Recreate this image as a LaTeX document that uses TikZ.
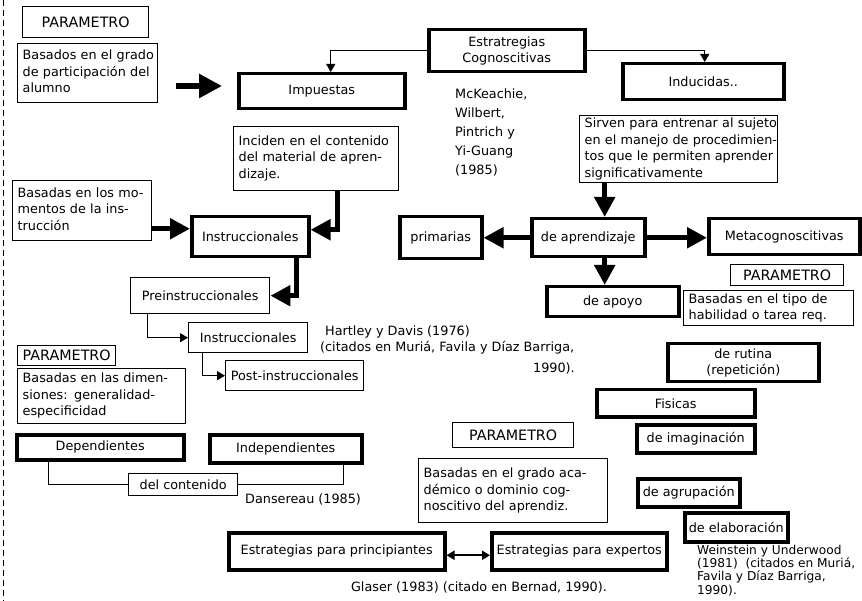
\documentclass[tikz,border=0pt]{standalone}
\usepackage{fontspec}
\setmainfont{DejaVu Sans}
\usetikzlibrary{arrows.meta}
\newcommand{\fs}{\fontsize{12.8}{16.5}\selectfont}
\newcommand{\fp}{\fontsize{14.3}{16.5}\selectfont}
\newcommand{\tb}[1]{\begin{tabular}{@{}l@{}}#1\end{tabular}}
\begin{document}
\begin{tikzpicture}[x=1pt,y=-1pt,
  bx/.style={draw, line width=1.4pt, anchor=north west, inner sep=0pt, align=center, font=\fs},
  tk/.style={bx, line width=3.5pt},
  pm/.style={bx, font=\fp},
  lb/.style={align=left, inner xsep=5pt},
  big/.style={line width=5pt, -{Triangle[length=20pt,width=20pt]}},
  bigA/.style={line width=6.5pt, -{Triangle[length=23pt,width=23pt]}},
  sm/.style={line width=1.3pt, -{Triangle[length=8pt,width=9pt]}},
  dbl/.style={line width=1.8pt, {Triangle[length=8pt,width=9pt]}-{Triangle[length=8pt,width=9pt]}},
  ln/.style={line width=1.3pt},
  txt/.style={font=\fs, inner sep=0pt, align=left}
]
\useasboundingbox (0,0) rectangle (862,601);
\fill[white] (0,0) rectangle (862,601);
\draw[line width=0.8pt, dash pattern=on 6pt off 4pt] (3,0) -- (3,601);

\node[pm, minimum width=126pt, minimum height=31pt] (p1) at (22,6) {PARAMETRO};
\node[bx, lb, text width=130pt, minimum height=59pt] (basados) at (17,43) {\tb{Basados en el grado\\de participación del\\alumno}};
\node[tk, minimum width=166pt, minimum height=35pt] (impuestas) at (237,72) {Impuestas};
\node[tk, minimum width=156pt, minimum height=42pt] (estrat) at (427,28) {Estratregias\\Cognoscitivas};
\node[tk, minimum width=161pt, minimum height=36pt] (inducidas) at (621,62) {Inducidas..};
\node[txt, anchor=north west, font=\fontsize{12.8}{19}\selectfont] (mck) at (455,89) {McKeachie,\\Wilbert,\\Pintrich y\\Yi-Guang\\(1985)};
\node[bx, lb, text width=155pt, minimum height=64pt] (inciden) at (233,126) {\tb{Inciden en el contenido\\del material de apren-\\dizaje.}};
\node[bx, lb, text width=188pt, minimum height=67pt] (sirven) at (579,115) {\tb{Sirven para entrenar al sujeto\\en el manejo de procedimien-\\tos que le permiten aprender\\significativamente}};
\node[bx, lb, text width=129pt, minimum height=60pt] (momentos) at (12,180) {\tb{Basadas en los mo-\\mentos de la ins-\\trucción}};
\node[tk, minimum width=117pt, minimum height=40pt] (instr1) at (190,215) {Instruccionales};
\node[tk, minimum width=82pt, minimum height=42pt] (primarias) at (398,215) {primarias};
\node[tk, minimum width=113pt, minimum height=38pt] (deaprend) at (530,217) {de aprendizaje};
\node[tk, minimum width=151pt, minimum height=36pt] (meta) at (707,217) {Metacognoscitivas};
\node[pm, minimum width=113pt, minimum height=21pt] (p4) at (730,264) {PARAMETRO};
\node[tk, minimum width=132pt, minimum height=30pt] (deapoyo) at (545,285) {de apoyo};
\node[bx, lb, text width=160pt, minimum height=35pt] (tipo) at (683,290) {\tb{Basadas en el tipo de\\habilidad o tarea req.}};
\node[bx, minimum width=139pt, minimum height=36pt] (preinstr) at (130,277) {Preinstruccionales};
\node[bx, minimum width=119pt, minimum height=30pt] (instr2) at (188,322) {Instruccionales};
\node[bx, minimum width=138pt, minimum height=30pt] (post) at (225,360) {Post-instruccionales};
\node[txt, anchor=west] (hart1) at (325,332) {Hartley y Davis (1976)};
\node[txt, anchor=west] (hart2) at (320,348) {(citados en Muriá, Favila y Díaz Barriga,};
\node[txt, anchor=east] (hart3) at (575,368) {1990).};
\node[pm, minimum width=98pt, minimum height=20pt] (p2) at (17,345) {PARAMETRO};
\node[tk, minimum width=151pt, minimum height=38pt] (rutina) at (666,342) {de rutina\\(repetición)};
\node[tk, minimum width=158pt, minimum height=27pt] (fisicas) at (595,388) {Fisicas};
\node[bx, lb, text width=158pt, minimum height=55pt] (dimen) at (17,368) {\tb{Basadas en las dimen-\\siones: generalidad-\\especificidad}};
\node[tk, minimum width=118pt, minimum height=28pt] (imag) at (635,423) {de imaginación};
\node[pm, minimum width=121pt, minimum height=25pt] (p3) at (452,422) {PARAMETRO};
\node[tk, minimum width=167pt, minimum height=25pt] (depend) at (15,433) {Dependientes};
\node[tk, minimum width=152pt, minimum height=28pt] (indep) at (208,433) {Independientes};
\node[bx, lb, text width=179pt, minimum height=64pt] (gradoaca) at (418,458) {\tb{Basadas en el grado aca-\\démico o dominio cog-\\noscitivo del aprendiz.}};
\node[tk, minimum width=102pt, minimum height=28pt] (agrup) at (636,477) {de agrupación};
\node[bx, minimum width=109pt, minimum height=22pt] (contenido) at (128,473) {del contenido};
\node[txt, anchor=west] (danse) at (245,499) {Dansereau (1985)};
\node[tk, minimum width=103pt, minimum height=29pt] (elab) at (683,511) {de elaboración};
\node[tk, minimum width=216pt, minimum height=37pt] (princip) at (227,531) {Estrategias para principiantes};
\node[tk, minimum width=175pt, minimum height=37pt] (expert) at (490,531) {Estrategias para expertos};
\node[txt, anchor=north west, font=\fontsize{12.2}{13.2}\selectfont] (wein) at (697,545) {Weinstein y Underwood\\(1981)~~(citados en Muriá,\\Favila y Díaz Barriga,\\1990).};
\node[txt, anchor=center] (glaser) at (479,587) {Glaser (1983) (citado en Bernad, 1990).};

% connectors
\coordinate (ya) at (0,86);
\draw[bigA, shorten <=18pt, shorten >=15pt] (basados.east |- ya) -- (impuestas.west |- ya);
\coordinate (c2) at ([yshift=8pt]instr1.west);
\draw[big] (momentos.east |- c2) -- (c2);
\draw[big] ([xshift=21.5pt]inciden.south) |- ([yshift=7pt]instr1.east);
\draw[big] ([xshift=46.5pt]instr1.south) |- (preinstr.east);
\coordinate (s5) at ([xshift=-74pt]sirven.south);
\draw[big] (s5) -- (s5 |- deaprend.north);
\draw[big] (deaprend.west) -- (primarias.east |- deaprend.west);
\draw[big] (deaprend.east) -- (meta.west |- deaprend.east);
\draw[big] (s5 |- deaprend.south) -- (s5 |- deapoyo.north);

\draw[sm] (estrat.west) -| ([xshift=9pt]impuestas.north);
\draw[sm] (estrat.east) -| ([xshift=1.5pt]inducidas.north);
\draw[sm] ([xshift=-52.5pt]preinstr.south) |- (instr2.west);
\draw[sm] ([xshift=-45.5pt]instr2.south) |- (post.west);
\draw[dbl] ([yshift=-4pt]princip.east) -- ([yshift=-4pt]expert.west);
\draw[ln] ([xshift=-51.5pt]depend.south) |- (contenido.west);
\draw[ln] (contenido.east) -| ([xshift=58pt]indep.south);
\end{tikzpicture}
\end{document}
